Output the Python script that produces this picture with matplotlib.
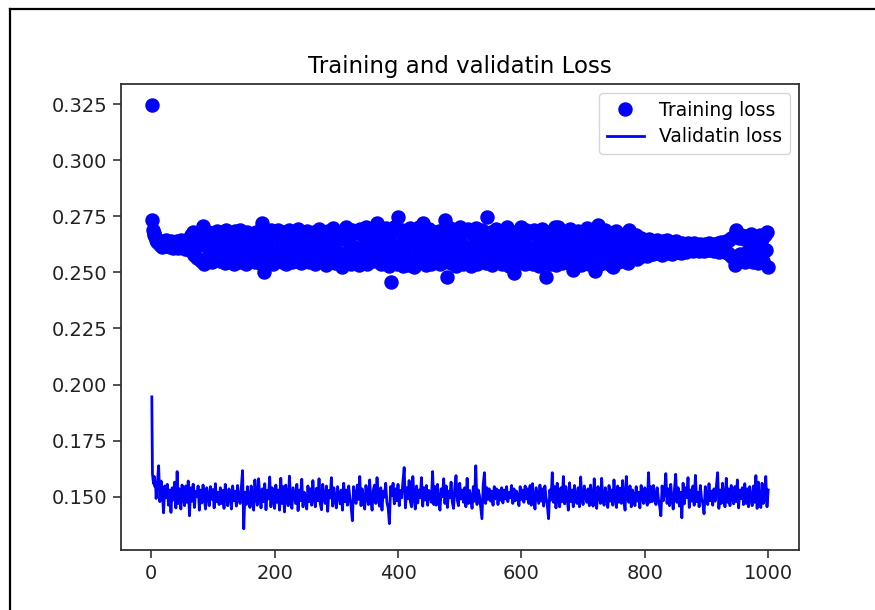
import matplotlib
matplotlib.use("Agg")
from matplotlib import pyplot as plt
from matplotlib.lines import Line2D

# epochs: every epoch at the start, then every 2nd one
epochs = list(range(1, 11)) + list(range(12, 1001, 2))

# losses, in units of 1e-4
train_loss_e4 = [
    3245, 2735, 2690, 2675, 2668, 2660, 2652, 2645, 2640, 2635,
    2630, 2622, 2628, 2615, 2636, 2624, 2645, 2618, 2632, 2612, 2640, 2620, 2610, 2634, 2615, 2638, 2608, 2625, 2642, 2612, 2630, 2605, 2640, 2618, 2650,
    2598, 2668, 2610, 2680, 2578, 2640, 2565, 2675, 2620, 2552, 2650, 2708, 2538, 2658, 2548, 2682, 2590, 2630, 2545, 2676, 2605, 2560, 2686, 2575, 2640,
    2550, 2678, 2600, 2632, 2542, 2688, 2590, 2620, 2552, 2672, 2605, 2538, 2684, 2580, 2640, 2548, 2690, 2612, 2560, 2668, 2595, 2536, 2680, 2625, 2565,
    2662, 2560, 2620, 2548, 2682, 2598, 2640, 2540, 2676, 2718, 2500, 2630, 2572, 2680, 2545, 2610, 2688, 2590, 2536, 2668, 2605, 2555, 2690, 2585, 2648,
    2548, 2682, 2600, 2538, 2660, 2575, 2688, 2615, 2545, 2672, 2592, 2635, 2552, 2692, 2605, 2540, 2665, 2580, 2650, 2560, 2684, 2598, 2546, 2676, 2620,
    2570, 2678, 2538, 2650, 2598, 2695, 2555, 2625, 2545, 2672, 2610, 2532, 2686, 2590, 2660, 2550, 2698, 2605, 2540, 2668, 2592, 2648, 2558, 2682, 2522,
    2650, 2575, 2700, 2545, 2630, 2605, 2535, 2688, 2615, 2555, 2674, 2590, 2532, 2692, 2608, 2546, 2662, 2595, 2700, 2538, 2640, 2565, 2680, 2602, 2550,
    2668, 2585, 2718, 2550, 2640, 2538, 2684, 2605, 2542, 2698, 2598, 2632, 2530, 2455, 2676, 2570, 2702, 2610, 2535, 2745, 2620, 2552, 2690, 2528, 2662,
    2590, 2684, 2532, 2628, 2696, 2550, 2655, 2525, 2680, 2605, 2540, 2700, 2578, 2648, 2722, 2560, 2668, 2532, 2618, 2692, 2588, 2538, 2682, 2610, 2550,
    2662, 2578, 2686, 2535, 2630, 2598, 2548, 2732, 2650, 2478, 2605, 2696, 2542, 2620, 2565, 2680, 2530, 2655, 2590, 2700, 2550, 2628, 2538, 2685, 2600,
    2545, 2692, 2612, 2530, 2672, 2595, 2558, 2698, 2535, 2648, 2605, 2550, 2688, 2580, 2635, 2540, 2745, 2618, 2560, 2680, 2532, 2655, 2600, 2695, 2548,
    2635, 2565, 2684, 2538, 2650, 2598, 2550, 2700, 2612, 2530, 2668, 2578, 2630, 2496, 2682, 2605, 2542, 2655, 2570, 2700, 2552, 2640, 2535, 2688, 2608,
    2550, 2676, 2590, 2535, 2690, 2615, 2560, 2662, 2530, 2640, 2600, 2694, 2545, 2622, 2478, 2680, 2578, 2538, 2670, 2610, 2562, 2700, 2532, 2648, 2701,
    2570, 2658, 2542, 2684, 2605, 2552, 2645, 2588, 2692, 2535, 2620, 2509, 2675, 2598, 2545, 2686, 2615, 2532, 2662, 2580, 2635, 2556, 2696, 2600, 2538,
    2668, 2585, 2640, 2550, 2505, 2682, 2710, 2572, 2535, 2655, 2605, 2565, 2690, 2542, 2625, 2590, 2675, 2530, 2522, 2660, 2580, 2684, 2548, 2615, 2598,
    2555, 2665, 2585, 2635, 2545, 2540, 2688, 2600, 2655, 2565, 2640, 2590, 2668, 2560, 2625, 2580, 2655, 2572, 2645, 2588, 2632, 2575, 2650, 2598, 2582,
    2640, 2582, 2622, 2600, 2645, 2585, 2615, 2630, 2578, 2638, 2605, 2592, 2642, 2588, 2620, 2610, 2582, 2635, 2598, 2640, 2590, 2625, 2608, 2585, 2632,
    2605, 2628, 2592, 2618, 2632, 2598, 2610, 2625, 2595, 2630, 2602, 2615, 2622, 2596, 2628, 2605, 2618, 2594, 2625, 2600, 2612, 2630, 2598, 2620, 2608,
    2596, 2625, 2605, 2630, 2592, 2618, 2635, 2600, 2628, 2590, 2640, 2585, 2645, 2578, 2652, 2570, 2660, 2531, 2688, 2565, 2655, 2580, 2665, 2560, 2648,
    2548, 2662, 2590, 2642, 2555, 2670, 2600, 2545, 2658, 2575, 2635, 2540, 2665, 2588, 2650, 2552, 2668, 2598, 2679, 2522,
]

val_loss_e4 = [
    1945, 1603, 1575, 1558, 1590, 1545, 1565, 1492, 1540, 1560,
    1638, 1478, 1570, 1520, 1428, 1548, 1495, 1555, 1462, 1530, 1430, 1540, 1485, 1565, 1450, 1612, 1470, 1535, 1445, 1552, 1500, 1460, 1548, 1475, 1570,
    1415, 1540, 1480, 1556, 1452, 1525, 1500, 1548, 1440, 1530, 1472, 1552, 1495, 1445, 1540, 1505, 1460, 1545, 1488, 1532, 1450, 1558, 1478, 1520, 1465,
    1540, 1470, 1528, 1448, 1555, 1492, 1460, 1535, 1505, 1445, 1548, 1482, 1525, 1458, 1550, 1495, 1470, 1538, 1616, 1357, 1520, 1465, 1545, 1490, 1452,
    1548, 1480, 1440, 1575, 1498, 1462, 1580, 1505, 1450, 1535, 1478, 1558, 1442, 1528, 1490, 1588, 1455, 1540, 1500, 1448, 1552, 1475, 1530, 1440, 1582,
    1470, 1545, 1432, 1552, 1495, 1460, 1592, 1488, 1448, 1540, 1505, 1470, 1555, 1438, 1530, 1482, 1578, 1455, 1520, 1498, 1445, 1548, 1478, 1535, 1462,
    1572, 1490, 1455, 1538, 1482, 1580, 1468, 1442, 1555, 1500, 1470, 1548, 1435, 1528, 1495, 1585, 1458, 1540, 1485, 1450, 1545, 1505, 1468, 1530, 1440,
    1560, 1478, 1530, 1462, 1548, 1495, 1455, 1393, 1545, 1505, 1470, 1552, 1488, 1590, 1460, 1535, 1478, 1445, 1550, 1500, 1465, 1575, 1482, 1440, 1530,
    1552, 1470, 1585, 1490, 1458, 1540, 1440, 1525, 1498, 1560, 1475, 1450, 1380, 1545, 1505, 1560, 1468, 1535, 1482, 1555, 1460, 1528, 1495, 1570, 1630,
    1450, 1540, 1490, 1572, 1478, 1455, 1590, 1500, 1445, 1548, 1472, 1530, 1495, 1585, 1458, 1540, 1485, 1550, 1462, 1528, 1505, 1475, 1612, 1465, 1545,
    1462, 1555, 1480, 1440, 1535, 1500, 1580, 1470, 1548, 1452, 1525, 1495, 1565, 1475, 1448, 1540, 1594, 1485, 1460, 1560, 1490, 1530, 1475, 1540, 1455,
    1582, 1470, 1528, 1495, 1448, 1545, 1480, 1638, 1465, 1530, 1505, 1452, 1402, 1550, 1607, 1470, 1540, 1488, 1535, 1480, 1525, 1462, 1545, 1490, 1535,
    1465, 1528, 1485, 1540, 1472, 1530, 1490, 1545, 1478, 1518, 1495, 1550, 1470, 1535, 1482, 1525, 1500, 1460, 1545, 1488, 1530, 1475, 1548, 1490, 1535,
    1470, 1550, 1462, 1558, 1490, 1445, 1540, 1505, 1470, 1552, 1480, 1535, 1458, 1548, 1495, 1460, 1402, 1530, 1485, 1607, 1475, 1545, 1450, 1560, 1490,
    1455, 1540, 1478, 1590, 1468, 1545, 1500, 1440, 1562, 1478, 1530, 1455, 1550, 1495, 1470, 1540, 1455, 1588, 1488, 1465, 1548, 1502, 1475, 1535, 1460,
    1552, 1495, 1458, 1580, 1475, 1448, 1545, 1505, 1470, 1582, 1485, 1462, 1540, 1498, 1452, 1550, 1480, 1530, 1462, 1575, 1490, 1452, 1548, 1475, 1538,
    1470, 1572, 1488, 1440, 1590, 1495, 1475, 1548, 1455, 1530, 1505, 1460, 1545, 1480, 1520, 1450, 1550, 1495, 1470, 1540, 1485, 1462, 1607, 1475, 1545,
    1478, 1550, 1505, 1465, 1540, 1490, 1458, 1415, 1548, 1482, 1525, 1603, 1470, 1535, 1460, 1555, 1488, 1445, 1530, 1600, 1475, 1540, 1458, 1520, 1406,
    1560, 1468, 1540, 1495, 1585, 1452, 1530, 1480, 1548, 1462, 1595, 1478, 1520, 1455, 1550, 1490, 1470, 1424, 1545, 1500, 1465, 1558, 1482, 1525, 1462,
    1535, 1480, 1548, 1607, 1448, 1530, 1470, 1560, 1490, 1455, 1582, 1475, 1535, 1460, 1550, 1495, 1468, 1545, 1478, 1575, 1450, 1530, 1492, 1540, 1465,
    1558, 1470, 1535, 1455, 1545, 1490, 1460, 1548, 1475, 1594, 1448, 1565, 1480, 1452, 1560, 1470, 1485, 1590, 1455, 1530,
]

train_loss = [v / 10000 for v in train_loss_e4]
val_loss = [v / 10000 for v in val_loss_e4]

fig = plt.figure(figsize=(8.75, 6.10), dpi=100)
ax = fig.add_axes([0.1383, 0.0984, 0.7749, 0.7639])

ax.plot(epochs, train_loss, 'bo', markersize=9.4, label='Training loss')
ax.plot(epochs, val_loss, 'b', linewidth=2.0, label='Validatin loss')

ax.set_title('Training and validatin Loss', fontsize=16.5, pad=8)
ax.set_xticks([0, 200, 400, 600, 800, 1000])
ax.set_yticks([0.150, 0.175, 0.200, 0.225, 0.250, 0.275, 0.300, 0.325])
ax.tick_params(labelsize=14, length=6, width=1.1, pad=4, colors='#222222')
for sp in ax.spines.values():
    sp.set_linewidth(1.3)
    sp.set_color('#333333')
ax.legend(loc='upper right', fontsize=13.5, handlelength=2.0, borderpad=0.4,
          labelspacing=0.4)

# screenshot frame, left and top edges
fig.add_artist(Line2D([10 / 875, 10 / 875], [0, 1 - 9 / 610], transform=fig.transFigure,
                      color='black', linewidth=1.6))
fig.add_artist(Line2D([10 / 875, 1], [1 - 9 / 610, 1 - 9 / 610], transform=fig.transFigure,
                      color='black', linewidth=1.6))

fig.savefig('out.png', dpi=100)
